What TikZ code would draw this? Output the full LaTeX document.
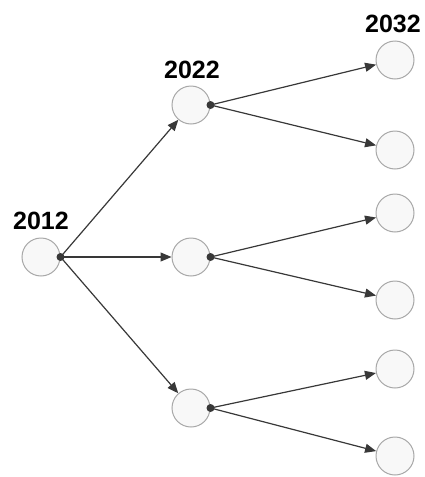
\documentclass[tikz,border=0pt]{standalone}
\usepackage{fontspec}
\setmainfont{Liberation Sans}
\usetikzlibrary{arrows.meta}
\definecolor{linec}{HTML}{383838}
\definecolor{ringc}{HTML}{A8A8A8}
\definecolor{fillc}{HTML}{F8F8F8}
\begin{document}
\begin{tikzpicture}[x=1pt,y=-1pt,
  ball/.style={circle,draw=ringc,line width=1pt,fill=fillc,minimum size=38pt,inner sep=0pt},
  arr/.style={draw=linec,line width=1.2pt,-{Triangle[length=11pt,width=9pt]}},
  dotc/.style={fill=linec},
  yr/.style={font=\fontsize{25}{25}\selectfont\bfseries,anchor=base,inner sep=0pt}]
\useasboundingbox (0,0) rectangle (425,477);
% circles
\node[ball] (a) at (41,257) {};
\node[ball] (b1) at (191,105) {};
\node[ball] (b2) at (191,257) {};
\node[ball] (b3) at (191,408) {};
\node[ball] (c1) at (395,60) {};
\node[ball] (c2) at (395,150) {};
\node[ball] (c3) at (395,213) {};
\node[ball] (c4) at (395,300) {};
\node[ball] (c5) at (395,369) {};
\node[ball] (c6) at (395,456) {};
% labels
\node[yr] (la) at (41,229) {2012};
\node[yr] (lb) at (192,78) {2022};
\node[yr] (lc) at (393,32) {2032};
% connectors
\draw[arr] (a.east) -- (b1);
\draw[arr] (a.east) -- (b2);
\draw[arr] (a.east) -- (b3);
\draw[arr] (b1.east) -- (c1);
\draw[arr] (b1.east) -- (c2);
\draw[arr] (b2.east) -- (c3);
\draw[arr] (b2.east) -- (c4);
\draw[arr] (b3.east) -- (c5);
\draw[arr] (b3.east) -- (c6);
% dots
\fill[dotc] (a.east) circle (4pt);
\fill[dotc] (b1.east) circle (4pt);
\fill[dotc] (b2.east) circle (4pt);
\fill[dotc] (b3.east) circle (4pt);
\end{tikzpicture}
\end{document}
